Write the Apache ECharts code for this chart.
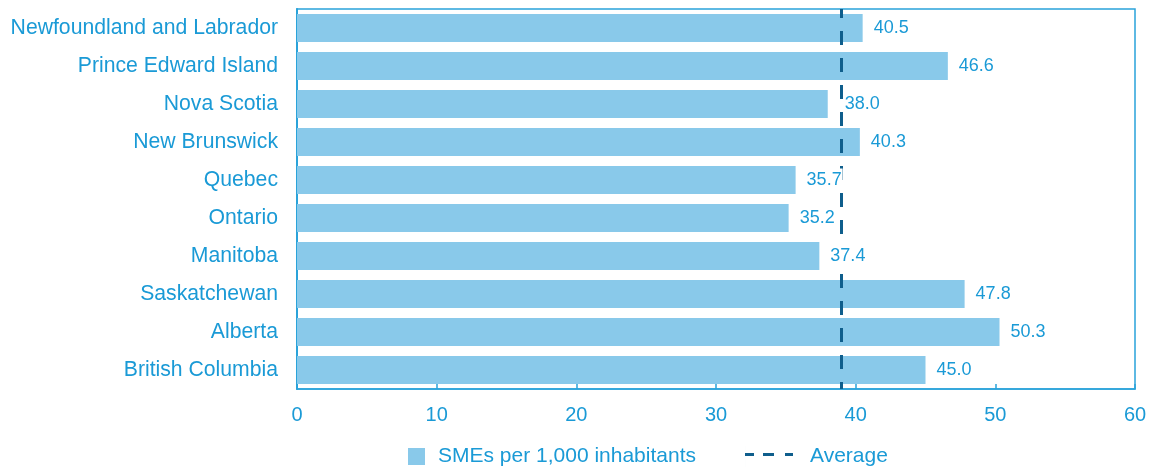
<!DOCTYPE html>
<html>
<head>
<meta charset="utf-8">
<script src="https://cdn.jsdelivr.net/npm/echarts@6/dist/echarts.min.js"></script>
<style>
  html, body { margin: 0; padding: 0; background: #ffffff; }
  #chart { width: 1150px; height: 468px; }
</style>
</head>
<body>
<div id="chart"></div>
<script>
// Small and medium-sized enterprises per 1,000 inhabitants, by province
const provinces = [
  'Newfoundland and Labrador',
  'Prince Edward Island',
  'Nova Scotia',
  'New Brunswick',
  'Quebec',
  'Ontario',
  'Manitoba',
  'Saskatchewan',
  'Alberta',
  'British Columbia'
];
const smesPerThousand = [40.5, 46.6, 38.0, 40.3, 35.7, 35.2, 37.4, 47.8, 50.3, 45.0];
const averageValue = 39.0;
const xTicks = [0, 10, 20, 30, 40, 50, 60];

const TEXT = '#1a9ad6';
const AXIS = '#2aa3da';
const BAR = '#89c9ea';
const AVG = '#0f5e8c';
const FONT = '"Liberation Sans", Arial, sans-serif';

const chart = echarts.init(document.getElementById('chart'), null, { renderer: 'canvas' });

// value labels sit on a transparent copy of the bars so they stay above the dashed line
function labelItems() {
  return smesPerThousand.map(function (v) {
    const nearAvg = v < averageValue && averageValue - v < 1.2;
    return { value: v, label: { distance: nearAvg ? 16 : 10 } };
  });
}

chart.setOption({
  animation: false,
  backgroundColor: '#ffffff',
  grid: {
    left: 297, right: 15, top: 9, bottom: 79,
    show: true, borderColor: AXIS, borderWidth: 1.5,
    containLabel: false
  },
  legend: [
    {
      left: 408, top: 446, padding: 0,
      itemWidth: 17, itemHeight: 17,
      icon: 'rect',
      data: ['SMEs per 1,000 inhabitants'],
      textStyle: { color: TEXT, fontSize: 21, lineHeight: 21, fontFamily: FONT, padding: [0, 0, 0, 8] }
    },
    {
      left: 745, top: 446, padding: 0,
      itemWidth: 48, itemHeight: 21,
      data: [{
        name: 'Average',
        icon: 'path://M0,7h9v3h-9z M18,7h11v3h-11z M40,7h8v3h-8z M0,0h0.01v21h-0.01z',
        itemStyle: { color: AVG }
      }],
      textStyle: { color: TEXT, fontSize: 21, lineHeight: 21, fontFamily: FONT, padding: [0, 0, 0, 12] }
    }
  ],
  xAxis: {
    type: 'value',
    min: xTicks[0],
    max: xTicks[xTicks.length - 1],
    interval: xTicks[1] - xTicks[0],
    axisLine: { show: true, lineStyle: { color: AXIS, width: 1.5 } },
    axisTick: { show: true, inside: true, length: 5, lineStyle: { color: AXIS, width: 1.5 } },
    splitLine: { show: false },
    axisLabel: { color: TEXT, fontSize: 20, fontFamily: FONT, margin: 16 }
  },
  yAxis: {
    type: 'category',
    inverse: true,
    data: provinces,
    axisLine: { show: true, lineStyle: { color: AXIS, width: 2 } },
    axisTick: { show: false },
    splitLine: { show: false },
    axisLabel: { color: TEXT, fontSize: 21.2, fontFamily: FONT, margin: 19 }
  },
  series: [
    {
      name: 'SMEs per 1,000 inhabitants',
      type: 'bar',
      barWidth: 28,
      itemStyle: { color: BAR },
      data: smesPerThousand,
      z: 2
    },
    {
      name: 'Average',
      type: 'line',
      data: [],
      symbol: 'none',
      lineStyle: { color: AVG, width: 3 },
      itemStyle: { color: AVG },
      markLine: {
        z: 3,
        silent: true,
        symbol: 'none',
        label: { show: false },
        lineStyle: { color: AVG, width: 3, type: [14, 13], dashOffset: 5 },
        data: [{ xAxis: averageValue }]
      },
      z: 3
    },
    {
      name: 'values',
      type: 'bar',
      barWidth: 28,
      barGap: '-100%',
      silent: true,
      itemStyle: { color: 'rgba(0,0,0,0)' },
      data: labelItems(),
      label: {
        show: true,
        position: 'right',
        color: TEXT,
        fontSize: 18,
        fontFamily: FONT,
        backgroundColor: '#ffffff',
        padding: [3, 1, 2, 1],
        formatter: function (p) { return p.value.toFixed(1); }
      },
      z: 6
    }
  ]
});
</script>
</body>
</html>
